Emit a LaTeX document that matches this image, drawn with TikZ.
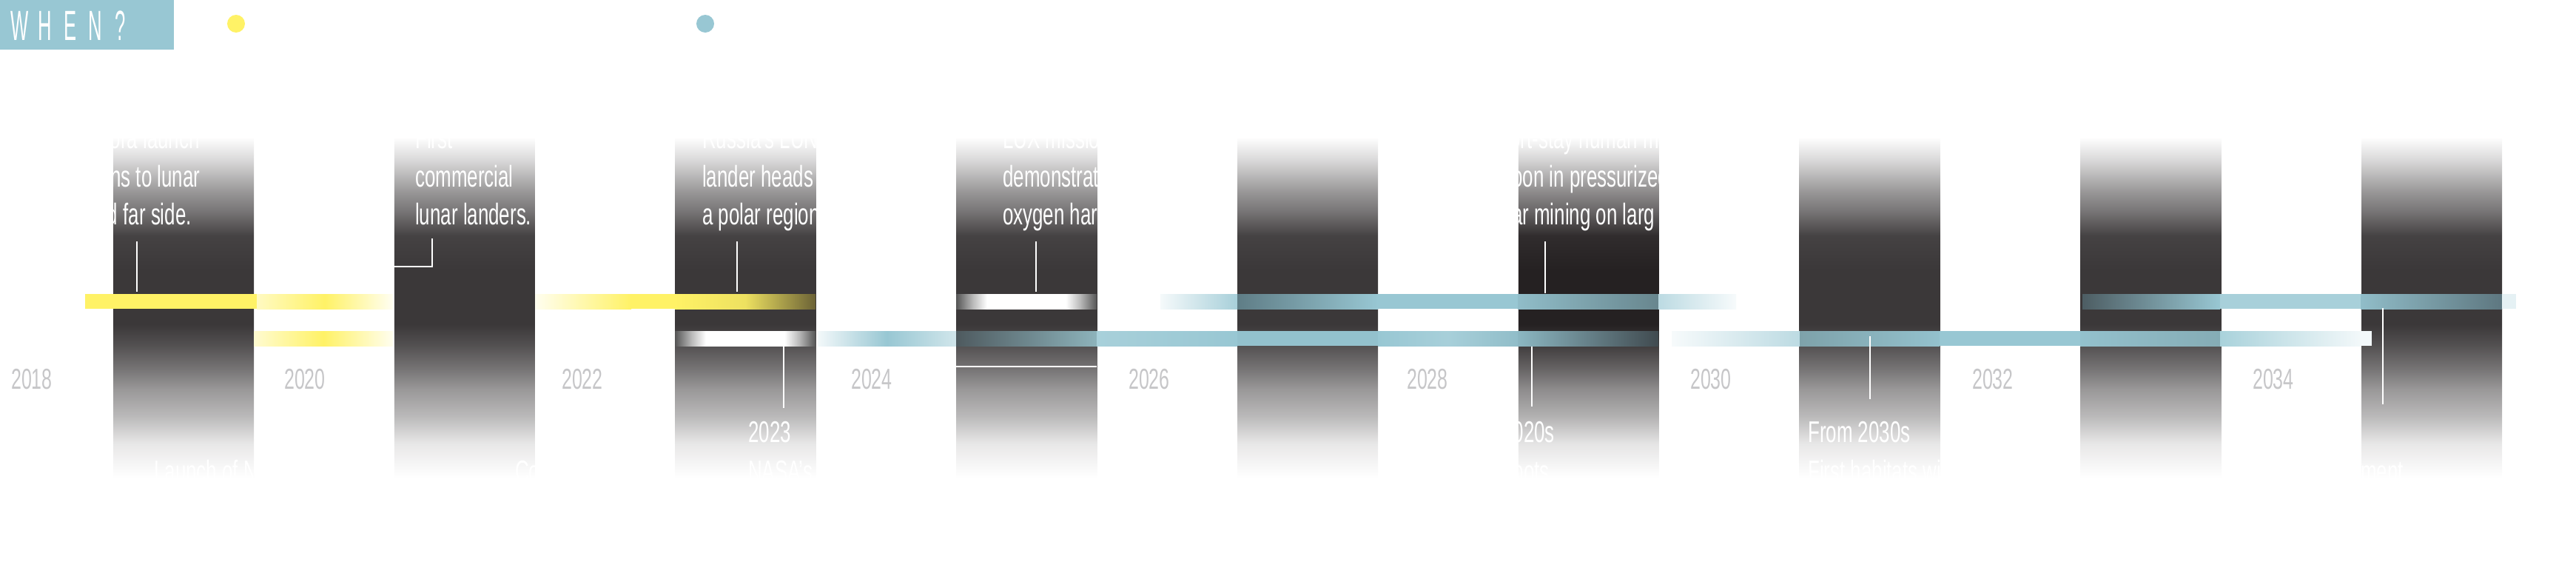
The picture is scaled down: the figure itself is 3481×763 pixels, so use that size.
\documentclass[tikz,border=0pt]{standalone}
\usepackage{fontspec}
\newfontfamily\cond[FakeStretch=0.64]{Liberation Sans}
\newfontfamily\wfont[FakeStretch=0.45]{Liberation Sans}
\definecolor{dk}{RGB}{59,56,57}
\definecolor{dkB}{RGB}{37,33,34}
\definecolor{ylw}{RGB}{255,242,102}
\definecolor{blu}{RGB}{152,199,211}
\definecolor{yrgray}{RGB}{198,198,200}
\definecolor{wg}{RGB}{85,85,85}
\definecolor{olv}{RGB}{107,98,54}
\definecolor{bdkA}{RGB}{95,125,134}
\definecolor{bdkB}{RGB}{104,134,142}
\definecolor{bsl}{RGB}{78,90,95}
\definecolor{bmid}{RGB}{141,179,187}
\definecolor{bli}{RGB}{168,208,218}
\definecolor{bdkC}{RGB}{64,74,79}
\definecolor{bdkD}{RGB}{126,162,170}
\definecolor{bdkE}{RGB}{133,172,181}
\definecolor{bliB}{RGB}{169,210,219}
\definecolor{bdkF}{RGB}{77,93,99}
\definecolor{bdkG}{RGB}{94,119,128}
\pgfdeclareverticalshading{colsh}{100bp}{color(0bp)=(white); color(25bp)=(white); color(30bp)=(dk!12); color(34bp)=(dk!35); color(38bp)=(dk!52); color(41bp)=(dk!70); color(44.5bp)=(dk!88); color(47.5bp)=(dk); color(55.5bp)=(dk); color(60.5bp)=(dk!95); color(64bp)=(dk!70); color(67bp)=(dk!52); color(71.5bp)=(dk!20); color(75bp)=(white); color(100bp)=(white)}
\pgfdeclareverticalshading{colshB}{100bp}{color(0bp)=(white); color(25bp)=(white); color(30bp)=(dkB!12); color(34bp)=(dkB!35); color(38bp)=(dkB!52); color(41bp)=(dkB!70); color(44.5bp)=(dkB!88); color(47.5bp)=(dkB); color(55.5bp)=(dkB); color(60.5bp)=(dkB!95); color(64bp)=(dkB!70); color(67bp)=(dkB!52); color(71.5bp)=(dkB!20); color(75bp)=(white); color(100bp)=(white)}
\pgfdeclarehorizontalshading{wbar}{100bp}{color(0bp)=(wg); color(25bp)=(wg); color(31bp)=(wg!40); color(36bp)=(white); color(64bp)=(white); color(69bp)=(wg!40); color(75bp)=(wg); color(100bp)=(wg)}
\begin{document}
\begin{tikzpicture}[x=1pt,y=-1pt,
  txt/.style={text=white,font=\cond\fontsize{40.5}{52}\selectfont,inner sep=0pt,anchor=base west},
  txtr/.style={txt,anchor=base east},
  yr/.style={text=yrgray,font=\cond\fontsize{39}{47}\selectfont,inner sep=0pt,anchor=base west},
  conn/.style={draw=white,line width=1.5pt}]
\useasboundingbox (0,0) rectangle (3481,763);
% header
\fill[blu] (0,0) rectangle (235,67);
\node[anchor=base west,inner sep=0pt,text=white,font=\wfont\fontsize{57}{60}\selectfont] (when) at (9.5,54)
  {\makebox[34pt]{W}\makebox[34pt]{H}\makebox[34pt]{E}\makebox[34pt]{N}\makebox[34pt]{?}};
\fill[ylw] (319,32) circle (12pt);
\fill[blu] (953,32) circle (12pt);
% columns
\foreach \i in {0,1,2,3,4,6,7,8}{
  \shade[shading=colsh] ({153+379.75*\i},185) rectangle ++(190,460);
}
\shade[shading=colshB] ({153+379.75*5},185) rectangle ++(190,460);
% years
\node[yr] (y18) at (15,525) {2018};
\node[yr] (y20) at (384,525) {2020};
\node[yr] (y22) at (759,525) {2022};
\node[yr] (y24) at (1150,525) {2024};
\node[yr] (y26) at (1525,525) {2026};
\node[yr] (y28) at (1901,525) {2028};
\node[yr] (y30) at (2284,525) {2030};
\node[yr] (y32) at (2665,525) {2032};
\node[yr] (y34) at (3044,525) {2034};
% upper row bars (397-417)
\fill[ylw] (115,397) rectangle (347,417);
\shade[left color=ylw!40, right color=ylw!8, middle color=ylw] (347,397) rectangle (531,417);
\shade[left color=ylw!10, right color=ylw] (723,397) rectangle (853,417);
\fill[ylw] (853,397) rectangle (912,417);
\shade[left color=ylw, right color=olv, middle color=ylw!88!olv] (912,397) rectangle (1102,417);
\shade[shading=wbar] (1292,397) rectangle (1482,417);
\shade[left color=blu!10, right color=blu!85] (1568,397) rectangle (1672,417);
\shade[left color=bdkA, right color=blu] (1672,397) rectangle (1862,417);
\fill[blu] (1862,397) rectangle (2051,417);
\shade[left color=blu!95!black, right color=bdkB] (2051,397) rectangle (2241,417);
\shade[left color=blu!65, right color=blu!8] (2241,397) rectangle (2346,417);
\shade[left color=bdkF, right color=blu] (2814,397) rectangle (3000,417);
\fill[bli] (3000,397) rectangle (3190,417);
\shade[left color=blu!95!black, right color=bdkG] (3190,397) rectangle (3381,417);
\fill[blu!25] (3381,397) rectangle (3400,417);
% lower row bars (447-467)
\shade[left color=ylw!30, right color=ylw!10, middle color=ylw] (343,447) rectangle (531,467);
\shade[shading=wbar] (912,447) rectangle (1102,467);
\shade[left color=blu!12, right color=blu!45, middle color=blu] (1105,447) rectangle (1292,467);
\shade[left color=bsl, right color=bmid] (1292,447) rectangle (1482,467);
\shade[left color=bli, right color=blu] (1482,447) rectangle (1672,467);
\fill[blu!97!black] (1672,447) rectangle (1862,467);
\shade[left color=blu, right color=blu!95!black, middle color=blu!85] (1862,447) rectangle (2051,467);
\shade[left color=blu!92!black, right color=bdkC] (2051,447) rectangle (2241,467);
\shade[left color=blu!8, right color=blu!65] (2259,447) rectangle (2432,467);
\shade[left color=bdkD, right color=blu!97!black] (2432,447) rectangle (2621,467);
\fill[blu] (2621,447) rectangle (2811,467);
\shade[left color=blu!97!black, right color=bdkE] (2811,447) rectangle (3000,467);
\shade[left color=bliB, right color=blu!12] (3000,447) rectangle (3190,467);
\fill[blu!12] (3190,447) rectangle (3205,467);
% connector end points
\coordinate (c1a) at (185,326); \coordinate (c1b) at (185,394);
\coordinate (c2a) at (584,322); \coordinate (c2b) at (584,360); \coordinate (c2c) at (532,360);
\coordinate (c3a) at (996,326); \coordinate (c3b) at (996,394);
\coordinate (c3c) at (1059,458); \coordinate (c3d) at (1059,551);
\coordinate (c4a) at (1400,326); \coordinate (c4b) at (1400,394);
\coordinate (c4c) at (1292,495); \coordinate (c4d) at (1482,495);
\coordinate (c6a) at (2088,326); \coordinate (c6b) at (2088,396);
\coordinate (c6c) at (2070,468); \coordinate (c6d) at (2070,549);
\coordinate (c7a) at (2527,454); \coordinate (c7b) at (2527,539);
\coordinate (c9a) at (3220,416); \coordinate (c9b) at (3220,546);
\draw[conn] (c1a) -- (c1b);
\draw[conn] (c2a) -- (c2b) -- (c2c);
\draw[conn] (c3a) -- (c3b);
\draw[conn] (c3c) -- (c3d);
\draw[conn] (c4a) -- (c4b);
\draw[conn,line width=2pt] (c4c) -- (c4d);
\draw[conn] (c6a) -- (c6b);
\draw[conn] (c6c) -- (c6d);
\draw[conn] (c7a) -- (c7b);
\draw[conn] (c9a) -- (c9b);
% top texts
\node[txtr] (t1a) at (270,200.5) {ora launch};
\node[txtr] (t1b) at (270.5,252) {ns to lunar};
\node[txtr] (t1c) at (259,303) {d far side.};
\node[txt] (t2a) at (561,200.5) {First};
\node[txt] (t2b) at (561,252) {commercial};
\node[txt] (t2c) at (561,303) {lunar landers.};
\node[txt] (t3a) at (949,200.5) {Russia’s LUNA};
\node[txt] (t3b) at (949,252) {lander heads to};
\node[txt] (t3c) at (949,303) {a polar region.};
\node[txt] (t4a) at (1355,200.5) {LUX mission};
\node[txt] (t4b) at (1355,252) {demonstrate};
\node[txt] (t4c) at (1355,303) {oxygen harv};
\node[txt] (t6a) at (2040,200.5) {ort-stay human m};
\node[txt] (t6b) at (2043,252) {oon in pressurized};
\node[txt] (t6c) at (2014,303) {unar mining on larg};
% bottom texts
\node[txt] (b1) at (208,650) {Launch of NASA’s};
\node[txt] (b2) at (696,650) {Com};
\node[txt] (b3a) at (1011,597) {2023};
\node[txt] (b3b) at (1011,650) {NASA’s first};
\node[txtr] (b6a) at (2101,597) {2020s};
\node[txtr] (b6b) at (2094,650) {bots};
\node[txt] (b7a) at (2443,597) {From 2030s};
\node[txt] (b7b) at (2443,650) {First habitats with};
\node[txtr] (b9) at (3248,650) {ment};
\end{tikzpicture}
\end{document}
